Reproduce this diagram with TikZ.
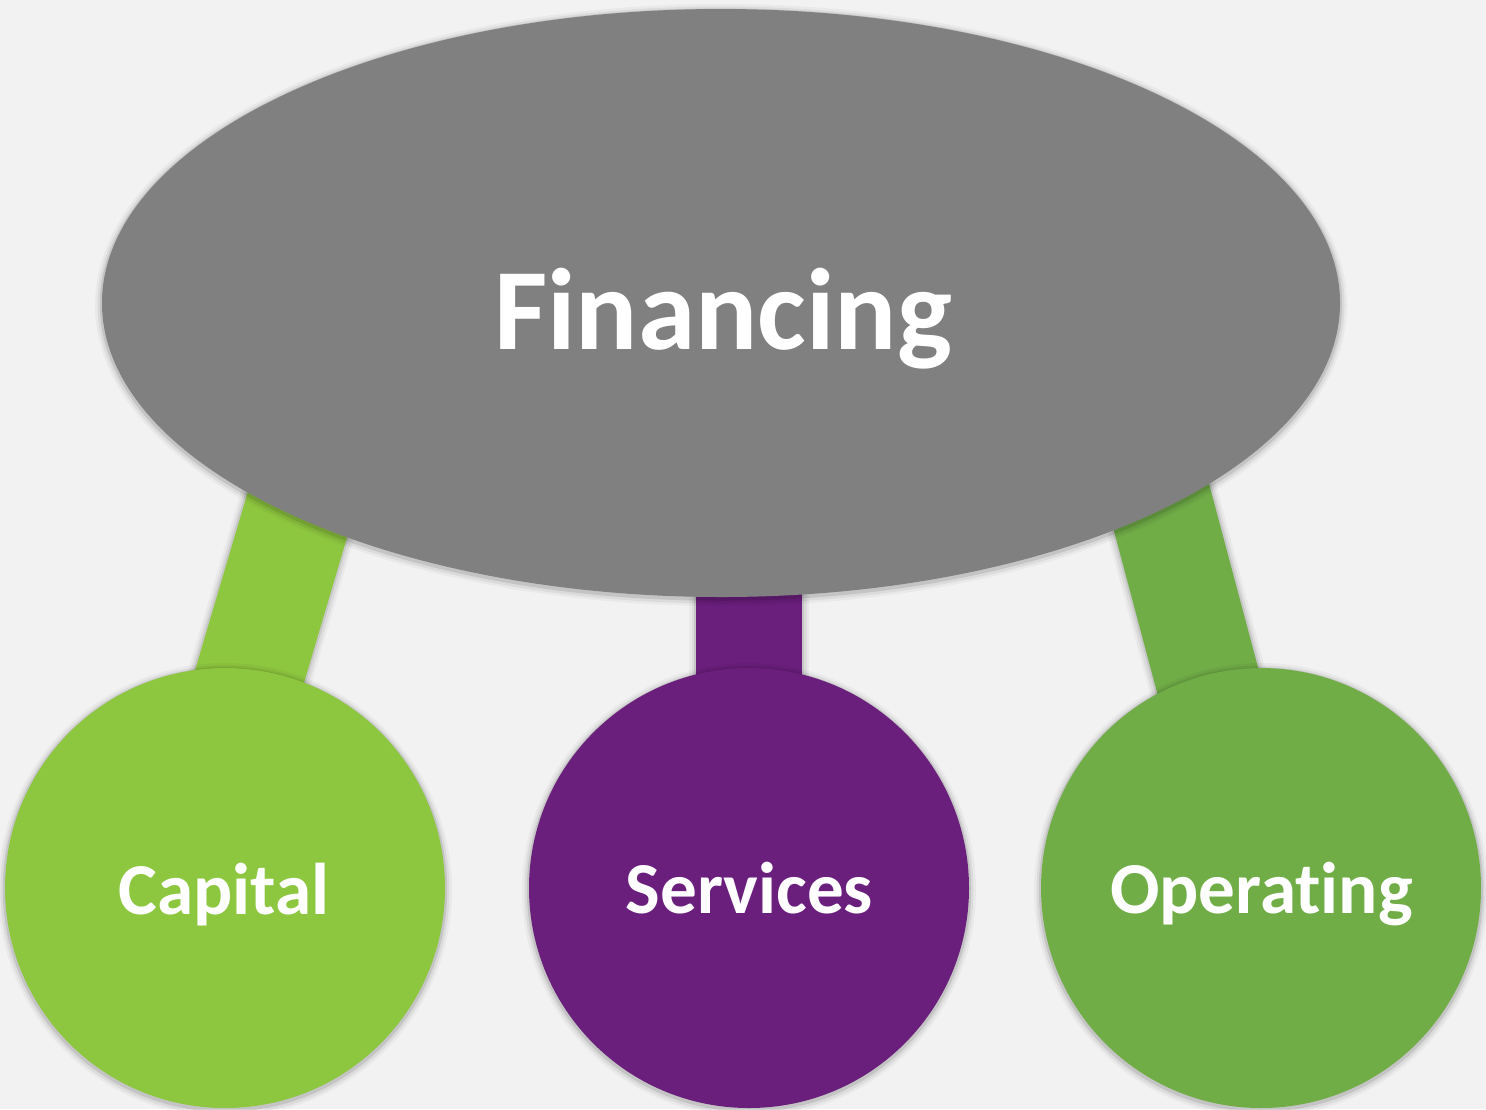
\documentclass[tikz,border=0pt]{standalone}
\usepackage{fontspec}
\setmainfont{Carlito}[Ligatures=NoCommon]
\usetikzlibrary{shapes.geometric}
\definecolor{bgc}{HTML}{F2F2F2}
\definecolor{finc}{HTML}{808080}
\definecolor{capc}{HTML}{8DC63F}
\definecolor{serc}{HTML}{6A1F7D}
\definecolor{opc}{HTML}{70AD47}
\tikzset{
  glow/.style={
    preaction={draw=black,draw opacity=.035,line width=7pt,transform canvas={yshift=-1pt}},
    preaction={draw=black,draw opacity=.06,line width=4.5pt,transform canvas={yshift=-1pt}},
    preaction={draw=black,draw opacity=.10,line width=2.2pt,transform canvas={yshift=-0.8pt}}},
  bubble/.style={circle,inner sep=0pt,minimum size=220pt,glow},
  barline/.style={line width=#1,line cap=butt,
    preaction={draw=black,draw opacity=.035,line width=#1+7pt,transform canvas={yshift=-0.5pt}},
    preaction={draw=black,draw opacity=.06,line width=#1+4.5pt,transform canvas={yshift=-0.5pt}},
    preaction={draw=black,draw opacity=.09,line width=#1+2pt}},
  bigtext/.style={anchor=base,text=white,font=\bfseries\fontsize{58}{58}\selectfont},
  lbltext/.style={anchor=base,text=white,font=\bfseries\fontsize{36.6}{36.6}\selectfont}
}
\begin{document}
\begin{tikzpicture}[x=0.5pt,y=-0.5pt]
\fill[bgc] (0,0) rectangle (1486,1109);
\useasboundingbox (0,0) rectangle (1486,1109);
\clip (0,0) rectangle (1486,1109);
% bar ends
\coordinate (capT) at (360,303);
\coordinate (capB) at (187,888);
\coordinate (serT) at (749,303);
\coordinate (serB) at (749,888);
\coordinate (opT) at (1107,303);
\coordinate (opB) at (1263,888);
% bars
\draw[capc,barline=54pt] (capT) -- (capB);
\draw[serc,barline=53pt] (serT) -- (serB);
\draw[opc,barline=52pt] (opT) -- (opB);
% main ellipse
\node[ellipse,inner sep=0pt,fill=finc,minimum width=619pt,minimum height=294pt,glow] (fin) at (721,303) {};
\node[bigtext] (fintxt) at (723,349) {Financing};
% circles
\node[bubble,fill=capc] (cap) at (225,888) {};
\node[bubble,fill=serc] (ser) at (749,888) {};
\node[bubble,fill=opc] (op) at (1261,888) {};
\node[lbltext] (captxt) at (224,914) {Capital};
\node[lbltext] (sertxt) at (749.5,913) {Services};
\node[lbltext] (optxt) at (1261.5,913) {Operating};
\end{tikzpicture}
\end{document}
